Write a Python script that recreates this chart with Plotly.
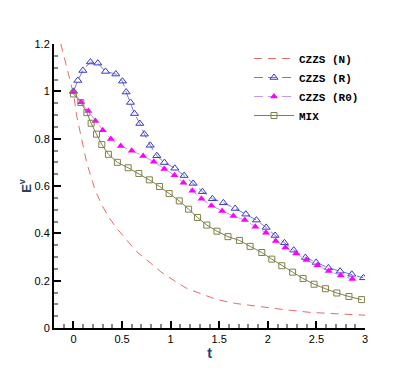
import plotly.graph_objects as go

# CZZS (N)
t_n = [-0.13, -0.085, -0.05, 0, 0.035, 0.069, 0.103, 0.138, 0.223, 0.292, 0.36, 0.446, 0.549,
       0.652, 0.789, 0.9, 1.029, 1.167, 1.304, 1.475, 1.681, 1.92, 2.16, 2.435, 2.71, 3.0]
e_n = [1.2, 1.126, 1.07, 0.99, 0.893, 0.83, 0.77, 0.696, 0.583, 0.52, 0.47, 0.421, 0.371,
       0.322, 0.276, 0.237, 0.202, 0.167, 0.146, 0.12, 0.103, 0.089, 0.078, 0.066, 0.061, 0.054]

# CZZS (R)
t_r = [0, 0.045, 0.097, 0.175, 0.251, 0.33, 0.436, 0.505, 0.542, 0.587, 0.628, 0.683, 0.73,
       0.79, 0.858, 0.936, 1.043, 1.139, 1.232, 1.327, 1.43, 1.543, 1.664, 1.774, 1.883, 1.983,
       2.075, 2.171, 2.267, 2.387, 2.497, 2.624, 2.744, 2.864, 2.984]
e_r = [1.0, 1.046, 1.088, 1.124, 1.119, 1.084, 1.073, 1.043, 0.997, 0.953, 0.906, 0.864, 0.819,
       0.772, 0.728, 0.699, 0.675, 0.644, 0.611, 0.576, 0.546, 0.529, 0.505, 0.481, 0.456, 0.425,
       0.391, 0.36, 0.329, 0.298, 0.277, 0.254, 0.24, 0.227, 0.212]

# CZZS (R0)
t_r0 = [0, 0.079, 0.154, 0.226, 0.302, 0.385, 0.487, 0.6, 0.717, 0.827, 0.935, 1.04, 1.132,
        1.224, 1.317, 1.42, 1.53, 1.646, 1.763, 1.872, 1.981, 2.082, 2.181, 2.291, 2.397, 2.51,
        2.627, 2.751, 2.87]
e_r0 = [0.997, 0.954, 0.917, 0.875, 0.836, 0.799, 0.769, 0.749, 0.727, 0.702, 0.672, 0.645, 0.614,
        0.58, 0.546, 0.517, 0.494, 0.473, 0.456, 0.428, 0.402, 0.368, 0.34, 0.315, 0.287, 0.265,
        0.241, 0.222, 0.207]

# MIX
t_mix = [0, 0.076, 0.138, 0.182, 0.237, 0.292, 0.36, 0.452, 0.563, 0.673, 0.781, 0.886, 0.985,
         1.089, 1.185, 1.276, 1.372, 1.477, 1.59, 1.708, 1.818, 1.938, 2.041, 2.144, 2.255, 2.363,
         2.476, 2.593, 2.71, 2.835, 2.965]
e_mix = [0.989, 0.953, 0.91, 0.865, 0.819, 0.775, 0.734, 0.7, 0.677, 0.653, 0.626, 0.598, 0.568,
         0.537, 0.502, 0.467, 0.435, 0.409, 0.386, 0.37, 0.345, 0.319, 0.291, 0.263, 0.236, 0.209,
         0.185, 0.166, 0.148, 0.133, 0.12]

fig = go.Figure()

fig.add_trace(go.Scatter(
    x=t_n, y=e_n, name='<b>CZZS (N)</b>', mode='lines',
    line=dict(color='#e86a6a', width=1, dash='8px,6px')
))
fig.add_trace(go.Scatter(
    x=t_r, y=e_r, name='<b>CZZS (R)</b>', mode='lines+markers',
    line=dict(color='#7777e0', width=1, dash='9px,5px'),
    marker=dict(symbol='triangle-up-open', size=7, color='#3838c8', line=dict(width=1))
))
fig.add_trace(go.Scatter(
    x=t_r0, y=e_r0, name='<b>CZZS (R0)</b>', mode='lines+markers',
    line=dict(color='#c499f5', width=1, dash='9px,5px'),
    marker=dict(symbol='triangle-up', size=7, color='#ff00ff')
))
fig.add_trace(go.Scatter(
    x=t_mix, y=e_mix, name='<b>MIX</b>', mode='lines+markers',
    line=dict(color='#80804a', width=1),
    marker=dict(symbol='square-open', size=6, color='#80804a', line=dict(width=1))
))

axis_font = dict(family='Liberation Sans, Arial', size=11, color='black')

# the page body adds an 8px offset, so the figure is sized and placed for that
fig.update_layout(
    width=407, height=361,
    margin=dict(l=46, r=50, t=36, b=41),
    plot_bgcolor='white',
    paper_bgcolor='white',
    showlegend=True,
    legend=dict(
        x=0.627, y=1.0, xanchor='left', yanchor='top',
        bgcolor='rgba(0,0,0,0)',
        font=dict(family='Liberation Mono, Courier New', size=11, color='black'),
        tracegroupgap=0, itemwidth=40
    ),
    xaxis=dict(
        range=[-0.2, 3], tick0=0, dtick=0.5,
        showgrid=False, zeroline=False,
        showline=True, linecolor='black', linewidth=2,
        ticks='inside', ticklen=7, tickwidth=1.5, tickcolor='black',
        tickfont=axis_font,
        minor=dict(ticks='inside', dtick=0.1, ticklen=4, tickcolor='#888888', showgrid=False),
        title=dict(text='<b>t</b>', font=dict(family='Liberation Sans, Arial', size=14), standoff=0)
    ),
    yaxis=dict(
        range=[0, 1.2], tick0=0, dtick=0.2,
        showgrid=False, zeroline=False,
        showline=True, linecolor='black', linewidth=2,
        ticks='inside', ticklen=7, tickwidth=1.5, tickcolor='black',
        tickfont=axis_font,
        minor=dict(ticks='inside', dtick=0.05, ticklen=4, tickcolor='#888888', showgrid=False),
        title=dict(text='<b>E<sup>v</sup></b>', font=dict(family='Liberation Sans, Arial', size=13), standoff=0)
    )
)

fig.write_html("out.html")
